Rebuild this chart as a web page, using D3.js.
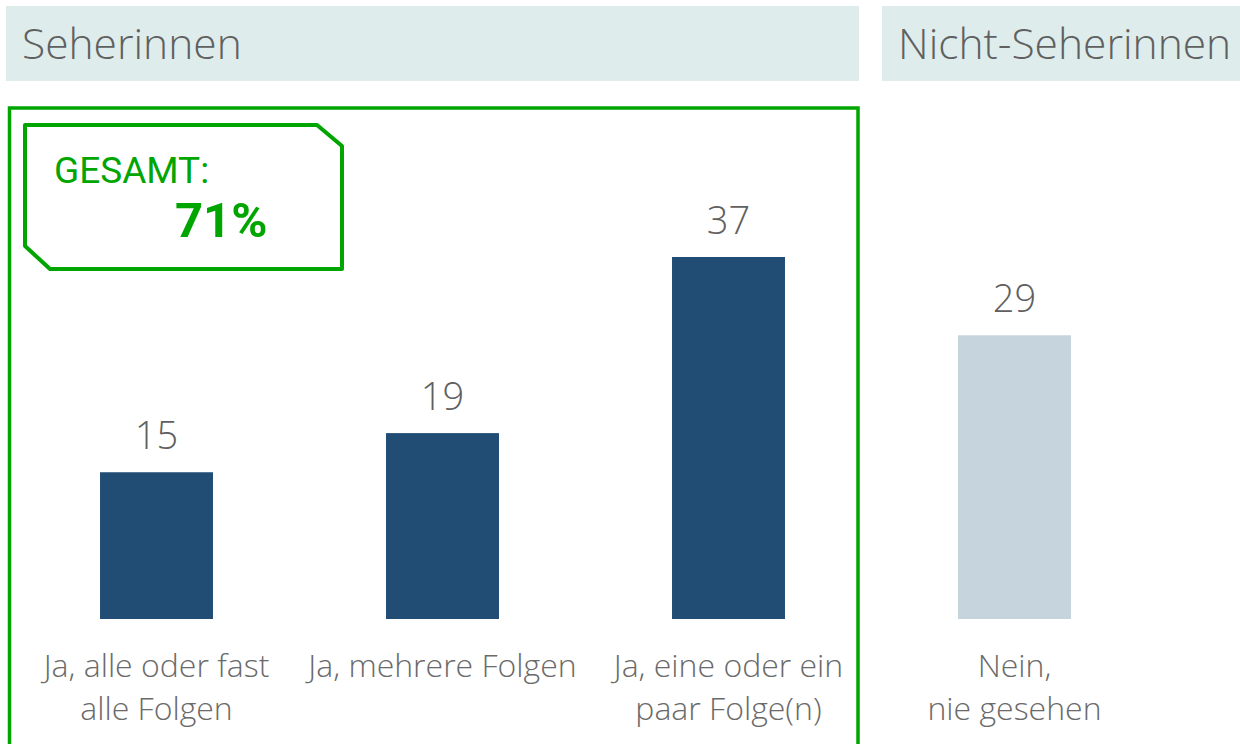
<!DOCTYPE html>
<html>
<head>
<meta charset="utf-8">
<script src="https://cdn.jsdelivr.net/npm/d3@7"></script>
<style>
  body { margin: 0; background: #fff; }
  svg text { font-family: "Open Sans", sans-serif; }
</style>
</head>
<body>
<svg id="chart"></svg>
<script>
'use strict'

const width = 1240,
      height = 744

// data
const categories = ["Ja, alle oder fast|alle Folgen", "Ja, mehrere Folgen", "Ja, eine oder ein|paar Folge(n)", "Nein,|nie gesehen"]
const values = [15, 19, 37, 29]
const groups = ["seher", "seher", "seher", "nicht"]
const headers = ["Seherinnen", "Nicht-Seherinnen"]
const totalLabel = "GESAMT:"
const totalValue = "71%"

const svg = d3.select("#chart")
  .attr("width", width)
  .attr("height", height)

// scales
const x = d3.scaleBand()
  .domain(categories)
  .range([13.5, 1157.5])
  .paddingInner(0.605)
  .paddingOuter(0.3025)

const y = d3.scaleLinear()
  .domain([0, 37])
  .range([619, 257])

const color = d3.scaleOrdinal()
  .domain(["seher", "nicht"])
  .range(["#214d75", "#c6d4de"])

// header bands
const headerBoxes = [[6, 859], [882, 1240]]
svg.selectAll("rect.header")
  .data(headers)
  .enter().append("rect")
    .attr("class", "header")
    .attr("x", (d, i) => headerBoxes[i][0])
    .attr("y", 6)
    .attr("width", (d, i) => headerBoxes[i][1] - headerBoxes[i][0])
    .attr("height", 75)
    .attr("fill", "#deedec")

svg.selectAll("text.header")
  .data(headers)
  .enter().append("text")
    .attr("class", "header")
    .attr("x", (d, i) => headerBoxes[i][0] + 16)
    .attr("y", 59)
    .attr("font-size", 42.5)
    .attr("font-weight", 300)
    .attr("fill", "#606060")
    .text(d => d)

// green frame around the viewers
svg.append("rect")
  .attr("x", 9.5)
  .attr("y", 108)
  .attr("width", 848.5)
  .attr("height", 660)
  .attr("fill", "none")
  .attr("stroke", "#00a500")
  .attr("stroke-width", 3.5)

// total box (cut corners)
svg.append("path")
  .attr("d", "M25,125 L317,125 L342,146 L342,269 L50,269 L25,246 Z")
  .attr("fill", "#fff")
  .attr("stroke", "#00a500")
  .attr("stroke-width", 4)
  .attr("stroke-linejoin", "round")

svg.append("text")
  .attr("x", 54)
  .attr("y", 183)
  .attr("font-size", 37)
  .attr("fill", "#00a500")
  .style("font-family", "Roboto, sans-serif")
  .text(totalLabel)

svg.append("text")
  .attr("x", 175)
  .attr("y", 237)
  .attr("font-size", 49)
  .attr("font-weight", 700)
  .attr("fill", "#00a500")
  .style("font-family", "Roboto, sans-serif")
  .text(totalValue)

// bars
svg.append("g")
  .selectAll("rect")
  .data(values)
  .enter().append("rect")
    .attr("x", (d, i) => x(categories[i]))
    .attr("y", d => y(d))
    .attr("width", x.bandwidth())
    .attr("height", d => y(0) - y(d))
    .attr("fill", (d, i) => color(groups[i]))

// value labels
svg.append("g")
  .selectAll("text")
  .data(values)
  .enter().append("text")
    .attr("x", (d, i) => x(categories[i]) + x.bandwidth() / 2)
    .attr("y", d => y(d) - 23)
    .attr("text-anchor", "middle")
    .attr("font-size", 38)
    .attr("font-weight", 300)
    .attr("fill", "#606060")
    .text(d => d)

// category labels
const labels = svg.append("g")
  .selectAll("text")
  .data(categories)
  .enter().append("text")
    .attr("text-anchor", "middle")
    .attr("font-size", 32)
    .attr("font-weight", 300)
    .attr("fill", "#6a6a6a")

labels.selectAll("tspan")
  .data(d => d.split("|").map(line => ({ line, cat: d })))
  .enter().append("tspan")
    .attr("x", d => x(d.cat) + x.bandwidth() / 2)
    .attr("y", (d, i) => 677 + i * 43)
    .text(d => d.line)
</script>
</body>
</html>
